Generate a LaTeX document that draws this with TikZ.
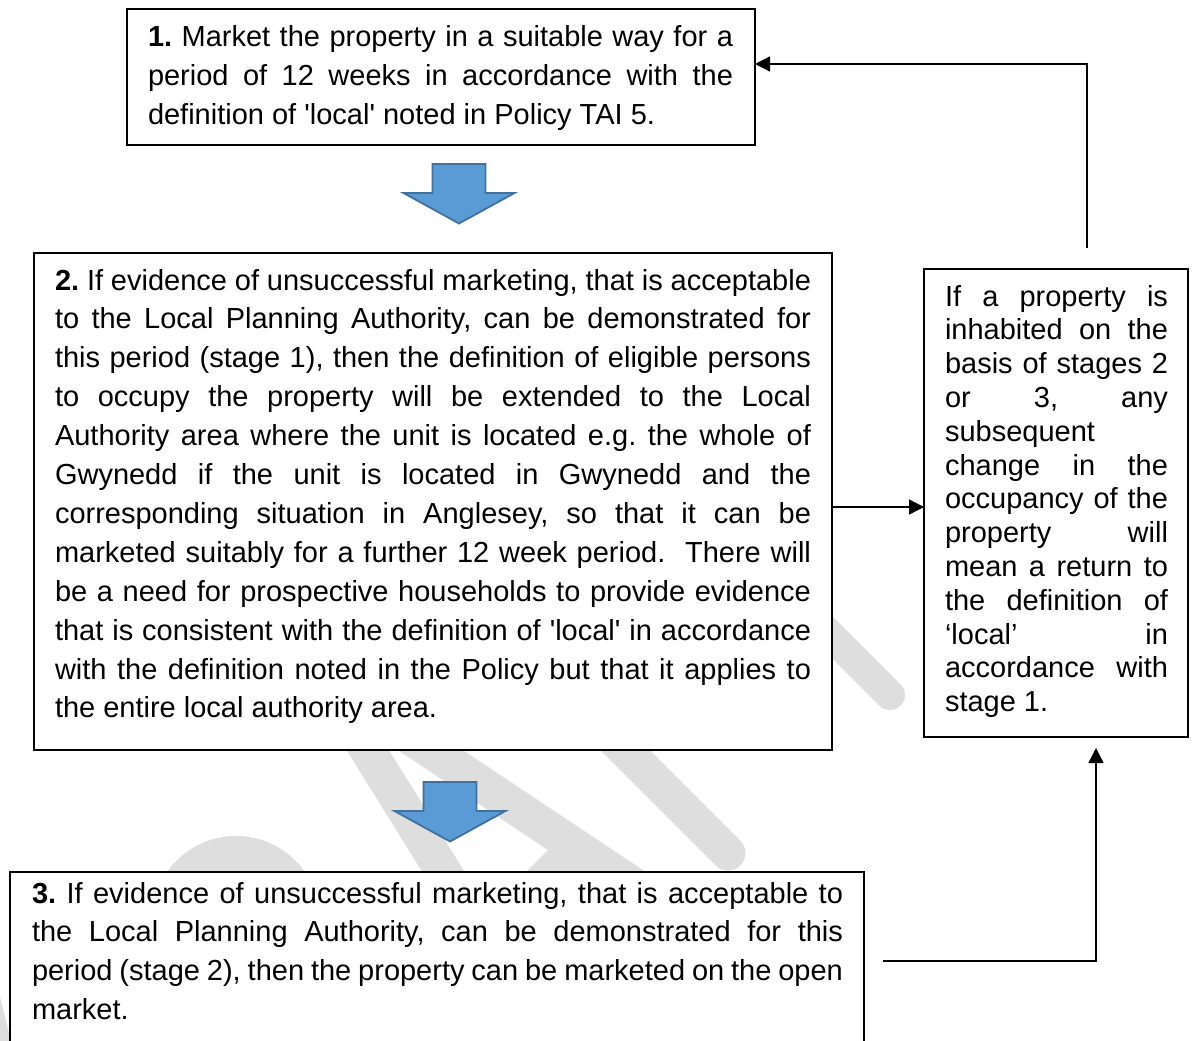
\documentclass[tikz,border=0pt]{standalone}
\usepackage{fontspec}
\setmainfont{Liberation Sans}
\usetikzlibrary{arrows.meta}
\definecolor{arrowfill}{HTML}{5B9BD5}
\definecolor{arrowline}{HTML}{41719C}
\definecolor{wmgray}{RGB}{222,222,222}
\tolerance=10000
\hyphenpenalty=10000
\frenchspacing
\tikzset{
  box/.style={draw=black, line width=2pt, fill=white, inner sep=0pt, outer sep=0pt, anchor=north west},
  txt/.style={inner sep=0pt, outer sep=0pt, anchor=base west, align=justify, font=\fontsize{29}{38.9}\selectfont},
  conn/.style={line width=1.3pt, -{Triangle[length=15pt,width=15pt]}},
  wm/.style={draw=wmgray, line width=#1},
  bluearrow/.style={fill=arrowfill, draw=arrowline, line width=1.8pt, line join=miter},
  downarrow/.pic={\draw[bluearrow] (-26.5,0) -- (26.5,0) -- (26.5,29) -- (55.5,29) -- (0,59.5) -- (-55.5,29) -- (-26.5,29) -- cycle;}
}
\begin{document}
\begin{tikzpicture}[x=1pt,y=-1pt]
\useasboundingbox (0,0) rectangle (1192,1041);
\clip (0,0) rectangle (1192,1041);
\fill[white] (0,0) rectangle (1192,1041);
% watermark
\fill[wmgray] (236,920) circle (84);
\fill[wmgray] (0,997) -- (11,1041) -- (0,1041) -- cycle;
\draw[wm=36] (346,715) -- (459,897);
\draw[wm=36] (370,710) -- (660,903);
\fill[wmgray] (548,850) -- (518,880) -- (600,880) -- cycle;
\draw[wm=35, line cap=round] (560,685) -- (728,853);
\draw[wm=30, line cap=round] (790,595) -- (890,695);
% boxes
\node[box, minimum width=628, minimum height=136] (b1) at (127,9) {};
\node[box, minimum width=798.5, minimum height=497] (b2) at (33.5,253) {};
\node[box, minimum width=854, minimum height=178] (b3) at (10,872) {};
\node[box, minimum width=264, minimum height=468] (b4) at (924,269) {};
% texts
\node[txt, text width=585] (t1) at (148,47) {\textbf{1.} Market the property in a suitable way for a\linebreak
period of 12 weeks in accordance with the\linebreak
definition of \textquotesingle local\textquotesingle{} noted in Policy TAI 5.};
\node[txt, text width=756] (t2) at (55,290) {\textbf{2.} If evidence of unsuccessful marketing, that is acceptable\linebreak
to the Local Planning Authority, can be demonstrated for\linebreak
this period (stage 1), then the definition of eligible persons\linebreak
to occupy the property will be extended to the Local\linebreak
Authority area where the unit is located e.g. the whole of\linebreak
Gwynedd if the unit is located in Gwynedd and the\linebreak
corresponding situation in Anglesey, so that it can be\linebreak
marketed suitably for a further 12 week period.\ \ There will\linebreak
be a need for prospective households to provide evidence\linebreak
that is consistent with the definition of \textquotesingle local\textquotesingle{} in accordance\linebreak
with the definition noted in the Policy but that it applies to\linebreak
the entire local authority area.};
\node[txt, text width=811] (t3) at (32,903) {\textbf{3.} If evidence of unsuccessful marketing, that is acceptable to\linebreak
the Local Planning Authority, can be demonstrated for this\linebreak
period (stage 2), then the property can be marketed on the open\linebreak
market.};
\node[txt, text width=223, font=\fontsize{29}{33.8}\selectfont] (t4) at (945,306) {If a property is\linebreak
inhabited on the\linebreak
basis of stages 2\linebreak
or 3, any\linebreak
subsequent\linebreak
change in the\linebreak
occupancy of the\linebreak
property will\linebreak
mean a return to\linebreak
the definition of\linebreak
‘local’ in\linebreak
accordance with\linebreak
stage 1.};
% connectors
\draw[conn] ([xshift=31pt,yshift=21pt]b4.north) |- ([yshift=13pt]b1.east);
\draw[conn] ([yshift=-5.5pt]b2.east) -- ([yshift=-5.5pt]b2.east -| b4.west);
\draw[conn] ([xshift=19pt]b3.east) -| ([xshift=40pt,yshift=-11pt]b4.south);
% block arrows
\pic at (459,164) {downarrow};
\pic at (450,782) {downarrow};
\end{tikzpicture}
\end{document}
